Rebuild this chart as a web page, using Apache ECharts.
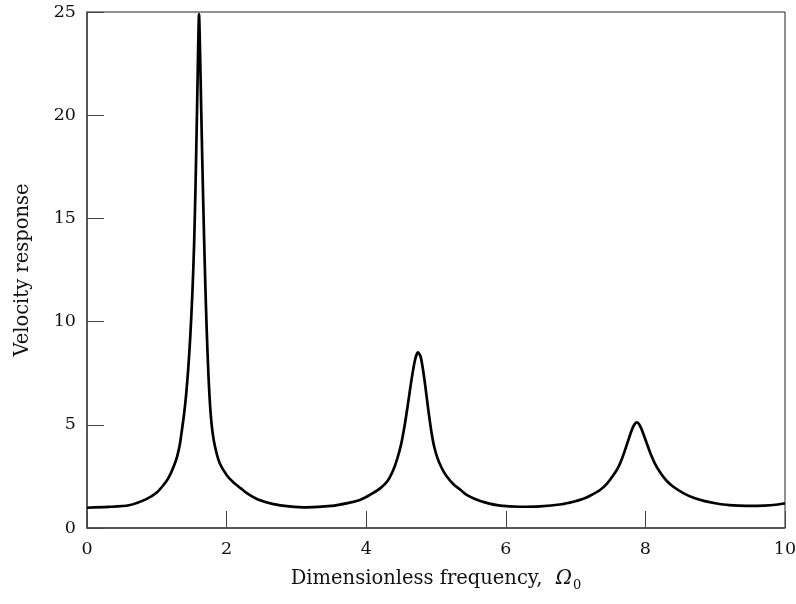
<!DOCTYPE html>
<html>
<head>
<meta charset="utf-8">
<script src="https://cdn.jsdelivr.net/npm/echarts@6/dist/echarts.min.js"></script>
<style>
  html, body { margin: 0; padding: 0; background: #fff; }
  #chart { width: 796px; height: 604px; }
</style>
</head>
<body>
<div id="chart"></div>
<script>
// dimensionless frequency (x) and velocity response (y)
const freq = [
  0, 0.3, 0.6, 0.85, 1.0, 1.1, 1.15, 1.2, 1.25, 1.29, 1.33, 1.36, 1.39, 1.42, 1.45, 1.48, 1.51,
  1.535, 1.555, 1.575, 1.59, 1.605, 1.62, 1.635, 1.655, 1.675, 1.695, 1.715, 1.74, 1.77,
  1.8, 1.84, 1.9, 2.0, 2.1, 2.2, 2.29, 2.45, 2.67, 2.9, 3.15,
  3.5, 3.75, 3.91, 4.0, 4.1, 4.2, 4.3, 4.38, 4.44, 4.5, 4.55, 4.6, 4.65, 4.7, 4.74,
  4.78, 4.83, 4.89, 4.93, 4.97, 5.02, 5.08, 5.15, 5.25, 5.35, 5.44, 5.55, 5.7, 5.92, 6.2, 6.49,
  6.8, 6.97, 7.1, 7.2, 7.35, 7.45, 7.55, 7.62, 7.68, 7.74, 7.8, 7.84, 7.875, 7.91, 7.95, 8.02,
  8.08, 8.14, 8.22, 8.3, 8.4, 8.55, 8.7, 8.85, 9.0, 9.2, 9.45, 9.7, 9.9, 10
];
const velocity = [
  0.98, 1.02, 1.1, 1.4, 1.72, 2.1, 2.33, 2.65, 3.05, 3.45, 4.05, 4.75, 5.5, 6.45, 7.7, 9.3, 11.4,
  13.8, 16.6, 20.0, 22.8, 24.9, 23.0, 20.5, 17.3, 14.4, 11.8, 9.6, 7.4, 5.6,
  4.6, 3.85, 3.15, 2.57, 2.2, 1.93, 1.69, 1.38, 1.16, 1.05, 1.0,
  1.07, 1.22, 1.36, 1.5, 1.7, 1.92, 2.25, 2.75, 3.3, 4.05, 4.95, 6.05, 7.2, 8.15, 8.51,
  8.3, 7.3, 5.72, 4.75, 4.0, 3.4, 2.92, 2.52, 2.12, 1.85, 1.6, 1.42, 1.24, 1.08, 1.03, 1.05,
  1.15, 1.27, 1.4, 1.55, 1.84, 2.15, 2.6, 3.0, 3.5, 4.1, 4.7, 5.0, 5.12, 5.03, 4.75, 4.1,
  3.55, 3.1, 2.65, 2.3, 2.0, 1.68, 1.45, 1.3, 1.2, 1.11, 1.07, 1.08, 1.14, 1.2
];
const xTicks = [0, 2, 4, 6, 8, 10];
const yTicks = [0, 5, 10, 15, 20, 25];

const serif = 'DejaVu Serif';
const chart = echarts.init(document.getElementById('chart'));
chart.setOption({
  animation: false,
  backgroundColor: '#fff',
  grid: {
    left: 87, right: 11, top: 12, bottom: 76,
    outerBoundsMode: 'none',
    show: true, borderColor: '#222', borderWidth: 1, backgroundColor: 'transparent'
  },
  xAxis: {
    type: 'value',
    min: xTicks[0], max: xTicks[xTicks.length - 1], interval: 2,
    name: '{a|Dimensionless frequency,  }{o|Ω}{s|0}',
    nameLocation: 'middle',
    nameGap: 37,
    nameTextStyle: {
      rich: {
        a: { fontFamily: serif, fontSize: 19.5, color: '#111' },
        o: { fontFamily: serif, fontSize: 19.5, fontStyle: 'italic', color: '#111', padding: [0, 0, 0, 1] },
        s: { fontFamily: serif, fontSize: 13, color: '#111', padding: [14, 0, 0, 1] }
      }
    },
    axisLine: { lineStyle: { color: '#444', width: 1.5 } },
    axisTick: { inside: true, length: 17, lineStyle: { color: '#444', width: 1 } },
    axisLabel: { margin: 12, fontFamily: serif, fontSize: 17.5, color: '#111',
      formatter: v => xTicks.includes(v) ? String(v) : '' },
    splitLine: { show: false }
  },
  yAxis: {
    type: 'value',
    min: yTicks[0], max: yTicks[yTicks.length - 1], interval: 5,
    name: 'Velocity response',
    nameLocation: 'middle',
    nameGap: 54,
    nameTextStyle: { fontFamily: serif, fontSize: 19.5, color: '#111' },
    axisLine: { lineStyle: { color: '#444', width: 1.5 } },
    axisTick: { inside: true, length: 17, lineStyle: { color: '#444', width: 1 } },
    axisLabel: { margin: 11, fontFamily: serif, fontSize: 17.5, color: '#111',
      formatter: v => yTicks.includes(v) ? String(v) : '' },
    splitLine: { show: false }
  },
  series: [{
    type: 'line',
    data: freq.map((f, i) => [f, velocity[i]]),
    smooth: 0.25,
    showSymbol: false,
    lineStyle: { color: '#000', width: 2.7 }
  }]
});
</script>
</body>
</html>
